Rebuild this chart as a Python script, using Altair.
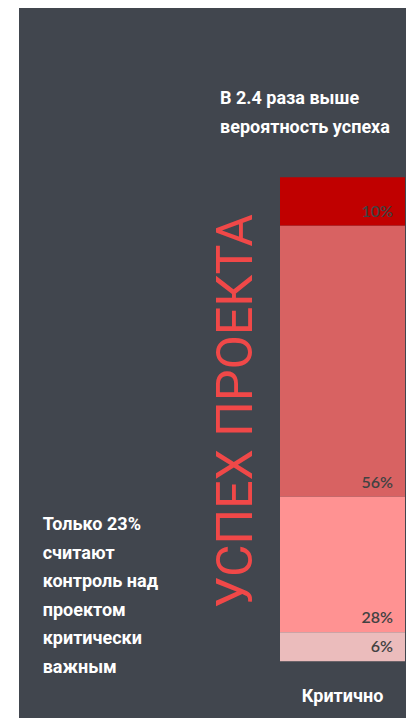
import altair as alt
import pandas as pd

# ---- data ----
categories = ["Критично"]
segment_labels = ["10%", "56%", "28%", "6%"]
segment_values = [10, 56, 28, 6]
segment_order = [4, 3, 2, 1]
segment_colors = ["#c00000", "#d86262", "#ff9292", "#ebbcbc"]

title_lines = ["В 2.4 раза выше", "вероятность успеха"]
note_lines = ["Только 23%", "считают", "контроль над", "проектом", "критически", "важным"]
vertical_title = "УСПЕХ ПРОЕКТА"

BG = "#41464e"
COND = "Roboto, Liberation Sans, sans-serif"

df = pd.DataFrame({
    "category": categories * len(segment_values),
    "label": segment_labels,
    "value": segment_values,
    "order": segment_order,
})
one = pd.DataFrame({"a": [0]})

W, H = 398, 710

xscale = alt.Scale(domain=categories, range=[272, 397], paddingInner=0, paddingOuter=0)
yscale = alt.Scale(domain=[0, 100], range=[653.3, 169.3])
cscale = alt.Scale(domain=segment_labels, range=segment_colors)

bg = alt.Chart(one).mark_rect(color=BG).encode(
    x=alt.value(11), x2=alt.value(W), y=alt.value(0), y2=alt.value(H)
)

bars = alt.Chart(df).mark_bar().encode(
    x=alt.X("category:N", scale=xscale, axis=None),
    y=alt.Y("value:Q", scale=yscale, axis=None, stack="zero"),
    color=alt.Color("label:N", scale=cscale, legend=None),
    order=alt.Order("order:Q", sort="ascending"),
)

labels = alt.Chart(df).transform_stack(
    stack="value", as_=["y0", "y1"], groupby=["category"],
    sort=[alt.SortField("order", order="ascending")]
).mark_text(
    align="right", baseline="middle", dx=50.5, dy=-14,
    font="Lato", fontSize=16, fontWeight=600, color="#424242"
).encode(
    x=alt.X("category:N", scale=xscale, axis=None),
    y=alt.Y("y0:Q", scale=yscale, axis=None),
    text="label:N",
)

cat_label = alt.Chart(pd.DataFrame({"category": categories})).mark_text(
    align="center", baseline="middle", font=COND, fontSize=18,
    fontWeight="bold", color="white"
).encode(
    x=alt.X("category:N", scale=xscale, axis=None),
    y=alt.value(689),
    text="category:N",
)

title = alt.Chart(one).mark_text(
    text=title_lines, align="left", baseline="middle", lineHeight=29,
    font=COND, fontSize=18, fontWeight="bold", color="white"
).encode(x=alt.value(212), y=alt.value(91))

note = alt.Chart(one).mark_text(
    text=note_lines, align="left", baseline="middle", lineHeight=28.6,
    font=COND, fontSize=18, fontWeight="bold", color="white"
).encode(x=alt.value(34.7), y=alt.value(517))

vtitle = alt.Chart(one).mark_text(
    text=vertical_title, align="center", baseline="alphabetic", angle=270,
    font="Roboto", fontSize=50, color="#f04848"
).encode(x=alt.value(243.7), y=alt.value(403))

chart = alt.layer(bg, bars, labels, cat_label, title, note, vtitle).properties(
    width=W, height=H, autosize=alt.AutoSizeParams(type="none"),
    padding=0, background="white"
).configure_view(stroke=None)

chart.save("out.html", embed_options={"renderer": "svg", "actions": False})
